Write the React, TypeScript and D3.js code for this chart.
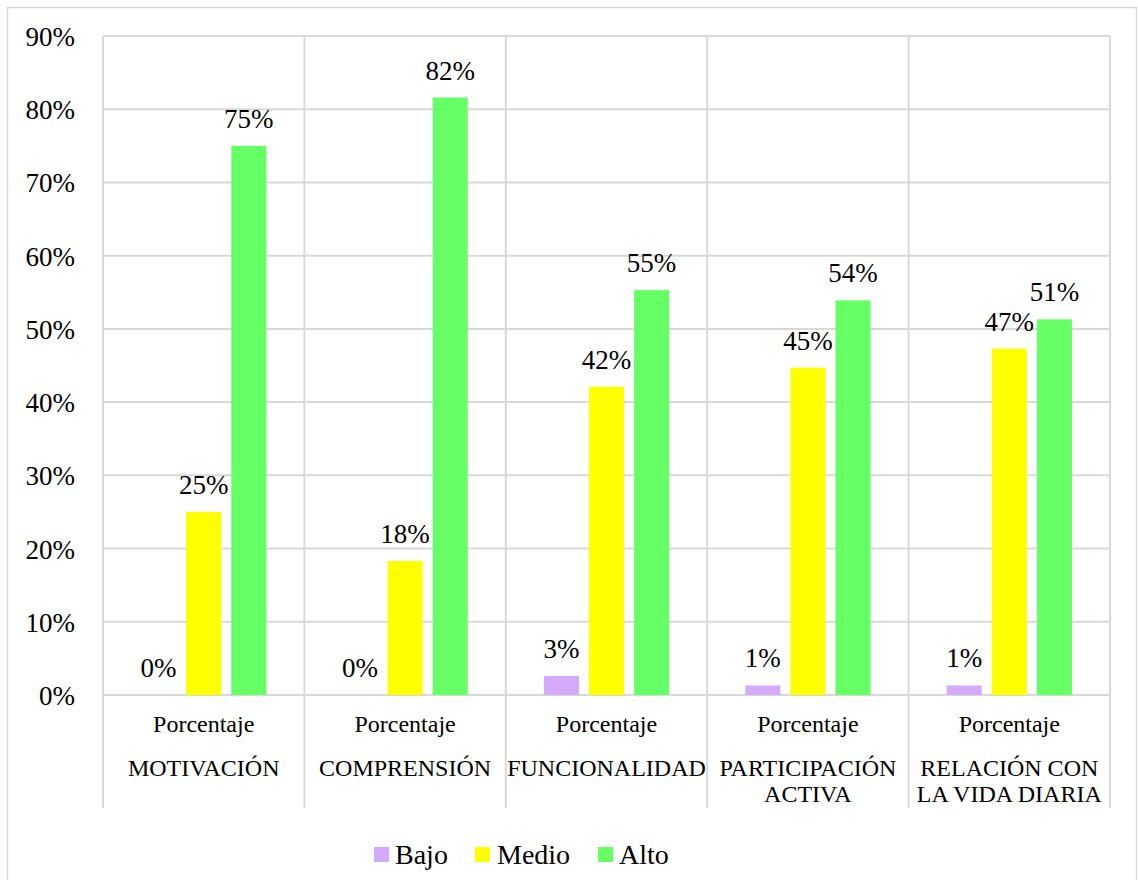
import React from "react";
import * as d3 from "d3";

const categories: string[][] = [
  ["MOTIVACIÓN"],
  ["COMPRENSIÓN"],
  ["FUNCIONALIDAD"],
  ["PARTICIPACIÓN", "ACTIVA"],
  ["RELACIÓN CON", "LA VIDA DIARIA"],
];
const subLabel = "Porcentaje";
const seriesNames = ["Bajo", "Medio", "Alto"];
const seriesColors = ["#d4aafc", "#ffff00", "#66ff66"];
const bajo = [0, 0, 2.6, 1.3, 1.3];
const medio = [25, 18.3, 42.1, 44.7, 47.3];
const alto = [75, 81.6, 55.3, 53.9, 51.3];
const yTicks = [0, 10, 20, 30, 40, 50, 60, 70, 80, 90];

const FONT = "'Liberation Serif', 'Times New Roman', serif";

function T(props: any) {
  const { children, style, ...rest } = props;
  return (
    <text {...rest} fill="#000" style={{ fontFamily: FONT, ...(style || {}) }}>
      {children}
    </text>
  );
}

export default function App() {
  const W = 1138, H = 880;
  const left = 103, right = 1110, top = 36, bottom = 695, sepBottom = 808;
  const y = d3.scaleLinear().domain([0, 90]).range([bottom, top]);
  const x0 = d3.scaleBand<number>().domain(d3.range(categories.length)).range([left, right]);
  const x1 = d3
    .scaleBand<number>()
    .domain([0, 1, 2])
    .range([0, x0.bandwidth()])
    .paddingInner(0.2222)
    .paddingOuter(0.844);
  const series = [bajo, medio, alto];
  const fmt = d3.format(".0%");
  const gridColor = "#d9d9d9";

  const legendItems = [
    { x: 374, tx: 395 },
    { x: 475, tx: 497 },
    { x: 598, tx: 619 },
  ];

  return (
    <svg
      width={W}
      height={H}
      style={{ position: "absolute", left: 0, top: 0, background: "#fff" }}
    >
      <rect x={7.5} y={7.5} width={1129} height={H} fill="#fff" stroke={gridColor} strokeWidth={1.5} />
      {yTicks.map((t) => (
        <g key={t}>
          <line x1={left} x2={right} y1={y(t)} y2={y(t)} stroke={gridColor} strokeWidth={2} />
          <T x={75} y={y(t) + 10} textAnchor="end" fontSize={27}>
            {t}%
          </T>
        </g>
      ))}
      {d3.range(categories.length + 1).map((i) => {
        const xx = i < categories.length ? x0(i)! : right;
        return (
          <line key={i} x1={xx} x2={xx} y1={top} y2={sepBottom} stroke={gridColor} strokeWidth={2} />
        );
      })}
      {series.map((vals, s) =>
        vals.map((v, i) => {
          const bx = x0(i)! + x1(s)!;
          return (
            <g key={`${s}-${i}`}>
              <rect x={bx} y={y(v)} width={x1.bandwidth()} height={bottom - y(v)} fill={seriesColors[s]} />
              <T x={bx + x1.bandwidth() / 2} y={y(v) - 18} textAnchor="middle" fontSize={27}>
                {fmt(v / 100)}
              </T>
            </g>
          );
        })
      )}
      {categories.map((lines, i) => {
        const cx = x0(i)! + x0.bandwidth() / 2;
        return (
          <g key={i}>
            <T x={cx} y={732} textAnchor="middle" fontSize={24}>
              {subLabel}
            </T>
            {lines.map((ln, j) => (
              <T key={j} x={cx} y={776 + j * 26} textAnchor="middle" fontSize={24}>
                {ln}
              </T>
            ))}
          </g>
        );
      })}
      {seriesNames.map((n, s) => (
        <g key={n}>
          <rect x={legendItems[s].x} y={847} width={15} height={15} fill={seriesColors[s]} />
          <T x={legendItems[s].tx} y={864} fontSize={28}>
            {n}
          </T>
        </g>
      ))}
    </svg>
  );
}
